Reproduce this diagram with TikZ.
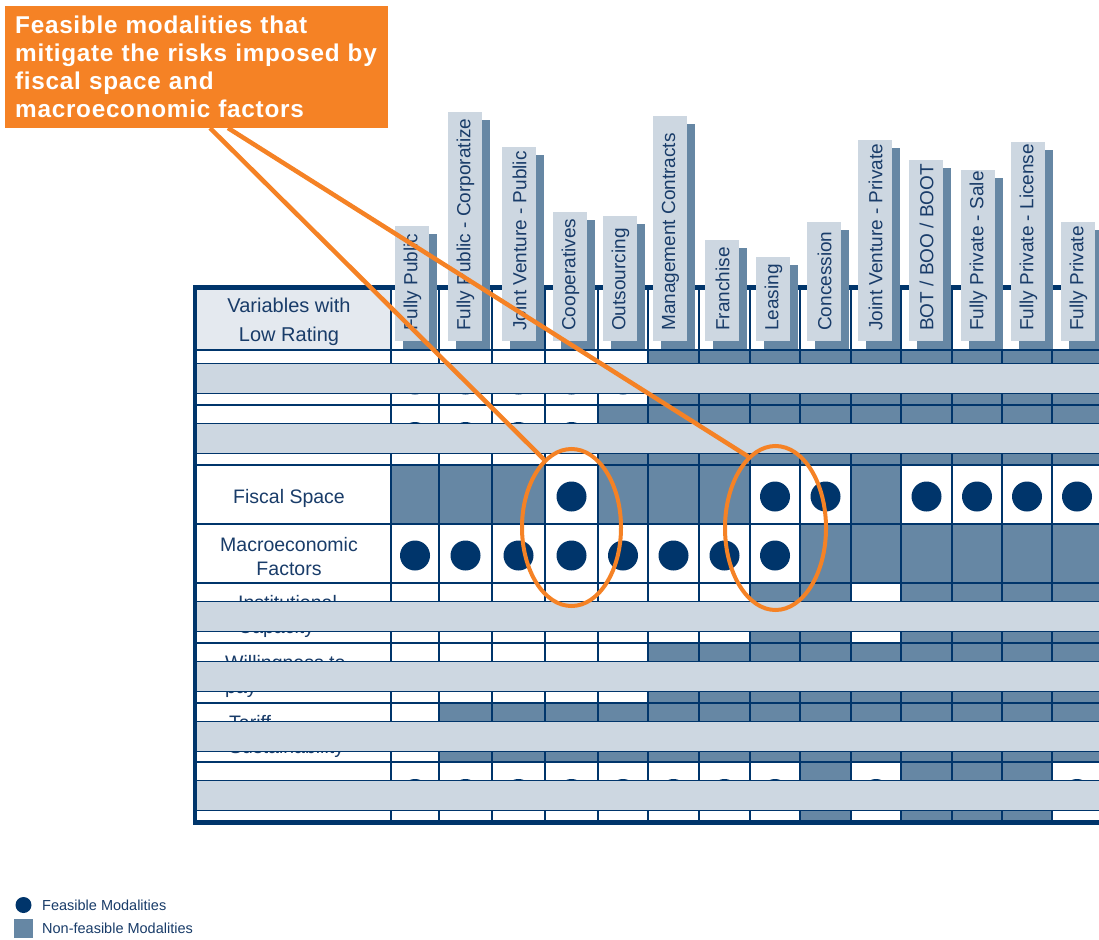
\documentclass[tikz,border=0pt]{standalone}
\usepackage{fontspec}
\setmainfont{Liberation Sans}
\usetikzlibrary{shapes.geometric}
\definecolor{navy}{RGB}{0,53,107}
\definecolor{ink}{RGB}{25,60,105}
\definecolor{steel}{RGB}{102,135,164}
\definecolor{haze}{RGB}{205,215,225}
\definecolor{pale}{RGB}{228,233,239}
\definecolor{tangerine}{RGB}{245,130,37}
\begin{document}
\begin{tikzpicture}[x=1pt,y=-1pt,
    cellline/.style={draw=navy,line width=1.6},
    band/.style={fill=haze,draw=navy,line width=1},
    dot/.style={fill=navy},
    rowlabel/.style={font=\fontsize{19.5}{24}\selectfont,text=ink,inner sep=0,align=center},
    hdlabel/.style={font=\fontsize{19}{22}\selectfont,text=ink,rotate=90,anchor=west,inner sep=0},
    callout/.style={fill=tangerine,text=white,anchor=north west,minimum width=383pt,minimum height=122pt,
      text width=363pt,inner xsep=10pt,inner ysep=0pt,align=left,
      font=\bfseries\fontsize{24.3}{28}\selectfont\addfontfeature{LetterSpace=3}},
    ring/.style={ellipse,draw=tangerine,line width=4,inner sep=0},
    leader/.style={draw=tangerine,line width=4.5},
    legendtext/.style={font=\fontsize{14.5}{17}\selectfont,text=ink,anchor=west,inner sep=0}]
    \useasboundingbox (0,0) rectangle (1099,939);
    \fill[white] (0,0) rectangle (1099,939);
    \def\colx{{391,439,492,545,598,648,699,750,800,851,901,952,1002,1052,1102}}
    \def\rowy{{350,405,465,524,583,643,703,762,822}}
    \fill[pale] (197,290) rectangle (391,350);
    % non-feasible cells
    \foreach \ri/\cols in {1/{6,...,14},2/{5,...,14},3/{1,2,3,5,6,7,10},4/{9,...,14},
        5/{8,9,11,12,13,14},6/{6,...,14},7/{2,...,14},8/{9,11,12,13}}
        \foreach \ci in \cols
            \fill[steel] ({\colx[\ci-1]},{\rowy[\ri-1]}) rectangle ({\colx[\ci]},{\rowy[\ri]});
    \foreach \ri in {0,...,7}
        \draw[cellline] (193,{\rowy[\ri]}) -- (1104,{\rowy[\ri]});
    \foreach \ci in {0,...,13}
        \draw[cellline] ({\colx[\ci]},287) -- ({\colx[\ci]},822);
    % feasible cells
    \foreach \ri/\cols in {1/{1,...,5},2/{1,...,4},3/{4,8,9,11,12,13,14},4/{1,...,8},
        8/{1,2,3,4,5,6,7,8,10,14}}
        \foreach \ci in \cols {
            \pgfmathsetmacro\dx{0.5*\colx[\ci-1]+0.5*\colx[\ci]}
            \pgfmathsetmacro\dy{0.5*\rowy[\ri-1]+0.5*\rowy[\ri]+2}
            \fill[dot] (\dx,\dy) circle (15pt);
        }
    \node[rowlabel,font=\fontsize{20}{29}\selectfont] (varhead) at (289,322) {Variables with\\Low Rating};
    \node[rowlabel] (fiscal) at (289,498) {Fiscal Space};
    \node[rowlabel] (macro) at (289,557) {Macroeconomic\\Factors};
    \node[rowlabel,align=left,anchor=west] (institution) at (238,616) {Institutional\\Capacity};
    \node[rowlabel,align=left,anchor=west] (willing) at (225,676) {Willingness to\\pay};
    \node[rowlabel,align=left,anchor=west] (tariff) at (229,736) {Tariff\\Sustainability};
    \foreach \bt in {363,423,601,661,721,780}
        \draw[band] (196,\bt) rectangle (1104,{\bt+30});
    \draw[navy,line width=4.5] (1104,287.5) -- (195.2,287.5) -- (195.2,822.5) -- (1104,822.5);
    % modality headers
    \foreach \xl/\yt/\name [count=\k] in {395/226/Fully Public,448/112/Fully Public - Corporatize,
        502/147/Joint Venture - Public,553/212/Cooperatives,603/216/Outsourcing,
        653/116/Management Contracts,705/240/Franchise,756/257/Leasing,807/222/Concession,
        858/140/Joint Venture - Private,909/160/{BOT / BOO / BOOT},961/170/Fully Private - Sale,
        1011/142/Fully Private - License,1061/222/Fully Private}{
        \fill[steel] (\xl+8,\yt+8) rectangle (\xl+42,349);
        \fill[haze] (\xl,\yt) rectangle (\xl+34,341);
        \node[hdlabel] (hd\k) at (\xl+17.5,331) {\name};
    }
    \node[callout] (callout) at (5,6) {Feasible modalities that\\mitigate the risks imposed by\\fiscal space and\\macroeconomic factors};
    \coordinate (tailA) at (210,128);
    \coordinate (tailB) at (228,128);
    \node[ring,minimum width=99pt,minimum height=157pt] (ringA) at (571.5,527.5) {};
    \node[ring,minimum width=101pt,minimum height=164pt] (ringB) at (775.5,528) {};
    \draw[leader] (tailA) -- (ringA.112);
    \draw[leader] (tailB) -- (ringB.111);
    % legend
    \fill[navy] (23.5,905) circle (8pt);
    \node[legendtext] (feasible) at (42,905) {Feasible Modalities};
    \fill[steel] (14,919) rectangle (33,938);
    \node[legendtext] (nonfeasible) at (42,928.5) {Non-feasible Modalities};
\end{tikzpicture}
\end{document}
